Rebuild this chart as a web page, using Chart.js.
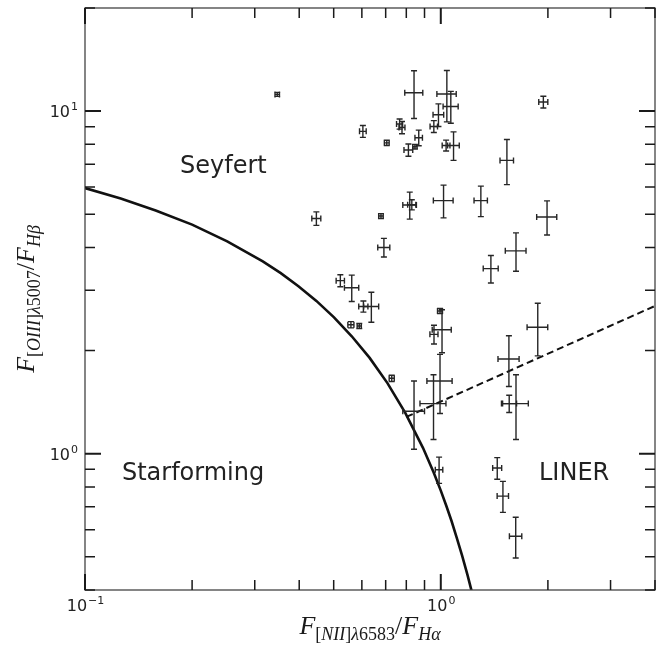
<!DOCTYPE html>
<html>
<head>
<meta charset="utf-8">
<script src="https://cdn.jsdelivr.net/npm/chart.js@4.4.0/dist/chart.umd.min.js"></script>
<style>
  body { margin: 0; background: #fff; }
  #wrap { width: 663px; height: 646px; }
</style>
</head>
<body>
<div id="wrap"><canvas id="bpt" width="663" height="646"></canvas></div>
<script>
// Galaxies: [NII]/Ha, [OIII]/Hb and their errors
const niiHa    = [0.347, 0.841, 1.040, 1.067, 0.985, 0.956, 0.766, 0.778, 1.942, 0.604, 0.705, 0.867, 0.811, 0.846, 1.035, 1.086, 1.534,
                  0.447, 0.679, 0.818, 0.829, 1.018, 1.296, 1.989, 0.692, 1.627, 1.383, 0.522, 0.562, 0.606, 0.638, 0.559, 0.590,
                  0.995, 0.957, 1.008, 1.873, 0.728, 0.995, 1.554, 0.954, 0.841, 1.557, 1.627, 0.989, 1.441, 1.495, 1.624];
const oiiiHb   = [11.19, 11.32, 11.22, 10.32, 9.76, 9.02, 9.17, 8.96, 10.63, 8.73, 8.08, 8.36, 7.70, 7.87, 7.94, 7.94, 7.18,
                  4.86, 4.94, 5.32, 5.33, 5.48, 5.48, 4.91, 4.00, 3.91, 3.47, 3.20, 3.05, 2.69, 2.69, 2.38, 2.36,
                  2.61, 2.23, 2.30, 2.34, 1.66, 1.63, 1.89, 1.40, 1.33, 1.40, 1.40, 0.898, 0.908, 0.752, 0.574];
const niiHaErr = [0.005, 0.049, 0.065, 0.052, 0.034, 0.023, 0.015, 0.015, 0.057, 0.013, 0.011, 0.021, 0.023, 0.012, 0.026, 0.041, 0.067,
                  0.013, 0.010, 0.036, 0.022, 0.065, 0.056, 0.129, 0.027, 0.109, 0.067, 0.014, 0.026, 0.018, 0.031, 0.011, 0.008,
                  0.016, 0.025, 0.062, 0.125, 0.012, 0.081, 0.106, 0.080, 0.059, 0.076, 0.135, 0.024, 0.042, 0.055, 0.065];
const oiiiHbErr = [0.15, 1.80, 1.92, 1.10, 0.74, 0.36, 0.31, 0.37, 0.42, 0.35, 0.14, 0.44, 0.32, 0.12, 0.29, 0.76, 1.08,
                  0.22, 0.08, 0.48, 0.18, 0.60, 0.56, 0.56, 0.25, 0.50, 0.32, 0.13, 0.27, 0.10, 0.27, 0.05, 0.04,
                  0.044, 0.14, 0.33, 0.41, 0.035, 0.32, 0.32, 0.30, 0.30, 0.081, 0.30, 0.079, 0.066, 0.078, 0.078];

// Kewley et al. maximum starburst curve
const kewleyX = [0.1, 0.126, 0.158, 0.2, 0.251, 0.316, 0.355, 0.398, 0.447, 0.501, 0.562, 0.631, 0.708, 0.794, 0.891, 0.955,
                 1.0, 1.035, 1.072, 1.109, 1.148, 1.189, 1.219, 1.23];
const kewleyY = [5.96, 5.555, 5.125, 4.663, 4.168, 3.640, 3.365, 3.083, 2.793, 2.499, 2.202, 1.904, 1.607, 1.318, 1.040, 0.881,
                 0.780, 0.707, 0.636, 0.568, 0.504, 0.442, 0.3995, 0.384];

// Seyfert / LINER dividing line
const dividerX = [0.80, 4.0];
const dividerY = [1.28, 2.70];

// Axis ranges and ticks
const xRange = [0.1, 4];
const yRange = [0.4, 20];
const xMajor = [0.1, 1];
const xMinor = [0.2, 0.3, 0.4, 0.5, 0.6, 0.7, 0.8, 0.9, 2, 3, 4];
const yMajor = [1, 10];
const yMinor = [0.4, 0.5, 0.6, 0.7, 0.8, 0.9, 2, 3, 4, 5, 6, 7, 8, 9, 20];
const xTickExp = ['\u22121', '0'];
const yTickExp = ['0', '1'];

// Region names
const regionNames = ['Seyfert', 'Starforming', 'LINER'];
const regionX = [0.185, 0.127, 1.888];
const regionY = [6.61, 0.840, 0.840];

const xTitle = [['F', 1, 0], ['[', 0, 1], ['NII', 1, 1], [']', 0, 1], ['\u03bb', 1, 1], ['6583', 0, 1],
                ['/', 0, 0], ['F', 1, 0], ['H\u03b1', 1, 1]];
const yTitle = [['F', 1, 0], ['[', 0, 1], ['OIII', 1, 1], [']', 0, 1], ['\u03bb', 1, 1], ['5007', 0, 1],
                ['/', 0, 0], ['F', 1, 0], ['H\u03b2', 1, 1]];

// math-like text: big italic letters with subscripts
function drawMath(ctx, parts, x, y) {
    const fontFor = p => (p[1] ? 'italic ' : '') + (p[2] ? '18px' : '26px') + ' "Liberation Serif"';
    let total = 0;
    parts.forEach(p => { ctx.font = fontFor(p); total += ctx.measureText(p[0]).width; });
    let cx = x - total / 2;
    ctx.textAlign = 'left';
    ctx.textBaseline = 'alphabetic';
    parts.forEach(p => {
        ctx.font = fontFor(p);
        ctx.fillText(p[0], cx, y + (p[2] ? 6 : 0));
        cx += ctx.measureText(p[0]).width;
    });
}

function drawPower(ctx, exp, x, y, align) {
    ctx.font = '16px "DejaVu Sans"';
    const wb = ctx.measureText('10').width;
    ctx.font = '11px "DejaVu Sans"';
    const we = ctx.measureText(exp).width;
    let sx = align === 'center' ? x - (wb + we) / 2 : x - wb - we;
    ctx.textAlign = 'left';
    ctx.textBaseline = 'alphabetic';
    ctx.font = '16px "DejaVu Sans"';
    ctx.fillText('10', sx, y);
    ctx.font = '11px "DejaVu Sans"';
    ctx.fillText(exp, sx + wb + 1, y - 7);
}

const bptDecor = {
    id: 'bptDecor',
    afterDatasetsDraw(chart) {
        const { ctx, scales: { x, y } } = chart;
        const cap = 3;
        ctx.save();
        ctx.strokeStyle = '#262626';
        ctx.lineWidth = 1.4;
        chart.data.datasets[0].data.forEach(p => {
            const px = x.getPixelForValue(p.x), py = y.getPixelForValue(p.y);
            const x0 = x.getPixelForValue(p.x - p.xErr), x1 = x.getPixelForValue(p.x + p.xErr);
            const y0 = y.getPixelForValue(p.y - p.yErr), y1 = y.getPixelForValue(p.y + p.yErr);
            ctx.beginPath();
            ctx.moveTo(x0, py); ctx.lineTo(x1, py);
            ctx.moveTo(x0, py - cap); ctx.lineTo(x0, py + cap);
            ctx.moveTo(x1, py - cap); ctx.lineTo(x1, py + cap);
            ctx.moveTo(px, y0); ctx.lineTo(px, y1);
            ctx.moveTo(px - cap, y0); ctx.lineTo(px + cap, y0);
            ctx.moveTo(px - cap, y1); ctx.lineTo(px + cap, y1);
            ctx.stroke();
        });
        ctx.restore();
    },
    afterDraw(chart) {
        const { ctx, chartArea: a, scales: { x, y } } = chart;
        ctx.save();
        // frame
        ctx.strokeStyle = '#444';
        ctx.lineWidth = 1.3;
        ctx.strokeRect(a.left, a.top, a.right - a.left, a.bottom - a.top);

        // inward ticks on all four sides
        ctx.strokeStyle = '#1a1a1a';
        const tick = (vals, len, w) => {
            ctx.lineWidth = w;
            ctx.beginPath();
            vals.forEach(v => {
                const px = x.getPixelForValue(v);
                ctx.moveTo(px, a.bottom); ctx.lineTo(px, a.bottom - len);
                ctx.moveTo(px, a.top); ctx.lineTo(px, a.top + len);
            });
            ctx.stroke();
        };
        const ytick = (vals, len, w) => {
            ctx.lineWidth = w;
            ctx.beginPath();
            vals.forEach(v => {
                const py = y.getPixelForValue(v);
                ctx.moveTo(a.left, py); ctx.lineTo(a.left + len, py);
                ctx.moveTo(a.right, py); ctx.lineTo(a.right - len, py);
            });
            ctx.stroke();
        };
        tick(xMinor, 10, 1.5);
        tick(xMajor, 16, 2);
        ytick(yMinor, 10, 1.5);
        ytick(yMajor, 16, 2);

        // tick labels
        ctx.fillStyle = '#222';
        xMajor.forEach((v, i) => drawPower(ctx, xTickExp[i], x.getPixelForValue(v), a.bottom + 21, 'center'));
        yMajor.forEach((v, i) => drawPower(ctx, yTickExp[i], a.left - 8, y.getPixelForValue(v) + 6, 'right'));

        // region names
        ctx.font = '24px "DejaVu Sans"';
        ctx.fillStyle = '#222';
        ctx.textAlign = 'left';
        ctx.textBaseline = 'alphabetic';
        regionNames.forEach((t, i) => ctx.fillText(t, x.getPixelForValue(regionX[i]), y.getPixelForValue(regionY[i])));

        // axis titles
        ctx.fillStyle = '#1a1a1a';
        drawMath(ctx, xTitle, (a.left + a.right) / 2, 634);
        ctx.save();
        ctx.translate(34, (a.top + a.bottom) / 2);
        ctx.rotate(-Math.PI / 2);
        drawMath(ctx, yTitle, 0, 0);
        ctx.restore();
        ctx.restore();
    }
};

const galaxies = niiHa.map((v, i) => ({ x: v, y: oiiiHb[i], xErr: niiHaErr[i], yErr: oiiiHbErr[i] }));
const kewleyPts = kewleyX.map((v, i) => ({ x: v, y: kewleyY[i] }));
const dividerPts = dividerX.map((v, i) => ({ x: v, y: dividerY[i] }));

const ctx = document.getElementById('bpt').getContext('2d');
new Chart(ctx, {
    type: 'scatter',
    data: {
        datasets: [{
            data: galaxies,
            pointRadius: 0,
            showLine: false
        }, {
            data: kewleyPts,
            showLine: true,
            borderColor: '#111',
            borderWidth: 2.6,
            pointRadius: 0,
            clip: 0
        }, {
            data: dividerPts,
            showLine: true,
            borderColor: '#111',
            borderWidth: 2,
            borderDash: [7, 4],
            pointRadius: 0,
            clip: 0
        }]
    },
    options: {
        responsive: false,
        animation: false,
        events: [],
        layout: { padding: { left: 85, right: 8, top: 8, bottom: 56 } },
        plugins: {
            legend: { display: false },
            tooltip: { enabled: false }
        },
        scales: {
            x: { type: 'logarithmic', min: xRange[0], max: xRange[1], display: false },
            y: { type: 'logarithmic', min: yRange[0], max: yRange[1], display: false }
        }
    },
    plugins: [bptDecor]
});
</script>
</body>
</html>
